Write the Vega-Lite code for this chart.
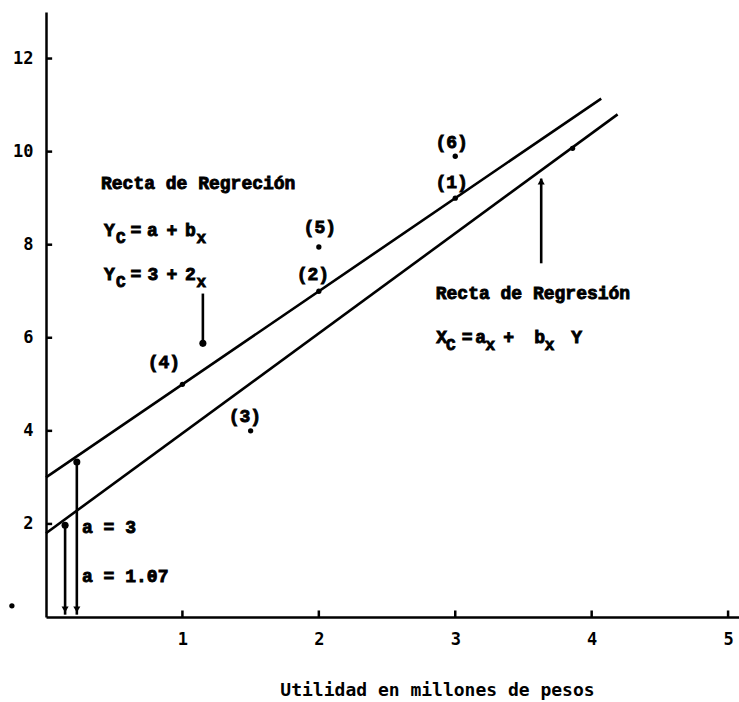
{
  "$schema": "https://vega.github.io/schema/vega-lite/v6.json",
  "width": 693,
  "height": 605,
  "autosize": {"type": "none"},
  "padding": {"left": 46, "top": 12, "right": 0, "bottom": 85},
  "background": "white",
  "config": {
    "view": {"stroke": null},
    "font": "Liberation Mono",
    "axis": {
      "grid": false,
      "ticks": false,
      "domainColor": "black",
      "domainWidth": 2.5,
      "labelFont": "DejaVu Sans Mono",
      "labelFontWeight": "bold",
      "labelFontSize": 17,
      "labelColor": "black",
      "titleFont": "DejaVu Sans Mono",
      "titleFontWeight": "bold",
      "titleFontSize": 18,
      "titleColor": "black"
    }
  },
  "datasets": {
    "rectas": [
      {"recta": "Yc", "x": 0, "y": 3},
      {"recta": "Yc", "x": 4.07, "y": 11.14},
      {"recta": "Xc", "x": 0, "y": 1.8},
      {"recta": "Xc", "x": 4.19, "y": 10.8}
    ],
    "marcasY": [
      {"x": 0, "x2": 0.045, "y": 2},
      {"x": 0, "x2": 0.045, "y": 4},
      {"x": 0, "x2": 0.045, "y": 6},
      {"x": 0, "x2": 0.045, "y": 8},
      {"x": 0, "x2": 0.045, "y": 10},
      {"x": 0, "x2": 0.045, "y": 12}
    ],
    "marcasX": [
      {"x": 1, "y": 0, "y2": 0.14},
      {"x": 2, "y": 0, "y2": 0.14},
      {"x": 3, "y": 0, "y2": 0.14},
      {"x": 4, "y": 0, "y2": 0.14},
      {"x": 5, "y": 0, "y2": 0.14}
    ],
    "obs": [
      {"n": "(1)", "x": 3, "y": 9},
      {"n": "(2)", "x": 2, "y": 7},
      {"n": "(3)", "x": 1.5, "y": 4},
      {"n": "(4)", "x": 1, "y": 5},
      {"n": "(5)", "x": 2, "y": 7.95},
      {"n": "(6)", "x": 3, "y": 9.9},
      {"n": "", "x": 3.86, "y": 10.07},
      {"n": "", "x": -0.25, "y": 0.24}
    ],
    "flechas": [
      {"x": 1.15, "y": 6.95, "y2": 5.88},
      {"x": 3.63, "y": 9.42, "y2": 7.6},
      {"x": 0.14, "y": 0.05, "y2": 1.97},
      {"x": 0.226, "y": 0.05, "y2": 3.33}
    ],
    "puntas": [
      {"x": 1.15, "y": 5.88, "forma": "circle"},
      {"x": 3.63, "y": 9.36, "forma": "triangle-up"},
      {"x": 0.14, "y": 1.97, "forma": "circle"},
      {"x": 0.226, "y": 3.33, "forma": "circle"},
      {"x": 0.14, "y": 0.16, "forma": "triangle-down"},
      {"x": 0.226, "y": 0.16, "forma": "triangle-down"}
    ],
    "centrados": [
      {"t": "(6)", "x": 2.974, "y": 10.19},
      {"t": "(1)", "x": 2.974, "y": 9.33},
      {"t": "(5)", "x": 2.007, "y": 8.35},
      {"t": "(2)", "x": 1.956, "y": 7.34},
      {"t": "(4)", "x": 0.864, "y": 5.45},
      {"t": "(3)", "x": 1.458, "y": 4.29},
      {"t": "Y", "x": 0.464, "y": 8.3},
      {"t": "=", "x": 0.659, "y": 8.3},
      {"t": "a", "x": 0.78, "y": 8.3},
      {"t": "+", "x": 0.923, "y": 8.3},
      {"t": "b", "x": 1.059, "y": 8.3},
      {"t": "Y", "x": 0.464, "y": 7.34},
      {"t": "=", "x": 0.659, "y": 7.34},
      {"t": "3", "x": 0.784, "y": 7.34},
      {"t": "+", "x": 0.923, "y": 7.34},
      {"t": "2", "x": 1.059, "y": 7.34},
      {"t": "X", "x": 2.901, "y": 5.99},
      {"t": "=", "x": 3.088, "y": 5.99},
      {"t": "a", "x": 3.187, "y": 5.99},
      {"t": "+", "x": 3.392, "y": 5.99},
      {"t": "b", "x": 3.619, "y": 5.99},
      {"t": "Y", "x": 3.89, "y": 5.99}
    ],
    "subindices": [
      {"t": "C", "x": 0.549, "y": 8.3},
      {"t": "x", "x": 1.139, "y": 8.3},
      {"t": "C", "x": 0.549, "y": 7.34},
      {"t": "x", "x": 1.139, "y": 7.34},
      {"t": "C", "x": 2.967, "y": 5.99},
      {"t": "x", "x": 3.256, "y": 5.99},
      {"t": "x", "x": 3.692, "y": 5.99}
    ],
    "izquierda": [
      {"t": "Recta de Regreción", "x": 0.403, "y": 9.31},
      {"t": "Recta de Regresión", "x": 2.857, "y": 6.93},
      {"t": "a = 3", "x": 0.264, "y": 1.91},
      {"t": "a = 1.07", "x": 0.264, "y": 0.86}
    ]
  },
  "encoding": {
    "x": {
      "field": "x",
      "type": "quantitative",
      "scale": {"domain": [0, 5.08], "nice": false, "zero": false},
      "axis": {
        "values": [1, 2, 3, 4, 5],
        "labelPadding": 14,
        "title": "Utilidad en millones de pesos",
        "titleX": 391,
        "titleY": 73,
        "titleAlign": "center",
        "titleBaseline": "middle"
      }
    },
    "y": {
      "field": "y",
      "type": "quantitative",
      "scale": {"domain": [0, 13], "nice": false, "zero": false},
      "axis": {
        "values": [2, 4, 6, 8, 10, 12],
        "labelPadding": 13,
        "title": null
      }
    }
  },
  "layer": [
    {
      "data": {"name": "rectas"},
      "mark": {"type": "line", "color": "black", "strokeWidth": 2.6},
      "encoding": {"detail": {"field": "recta", "type": "nominal"}}
    },
    {
      "data": {"name": "marcasY"},
      "mark": {"type": "rule", "color": "black", "strokeWidth": 2.5},
      "encoding": {"x2": {"field": "x2"}}
    },
    {
      "data": {"name": "marcasX"},
      "mark": {"type": "rule", "color": "black", "strokeWidth": 2.5},
      "encoding": {"y2": {"field": "y2"}}
    },
    {
      "data": {"name": "flechas"},
      "mark": {"type": "rule", "color": "black", "strokeWidth": 2.6},
      "encoding": {"y2": {"field": "y2"}}
    },
    {
      "data": {"name": "puntas"},
      "mark": {"type": "point", "filled": true, "color": "black", "opacity": 1, "size": 50},
      "encoding": {"shape": {"field": "forma", "type": "nominal", "scale": null}}
    },
    {
      "data": {"name": "obs"},
      "mark": {"type": "point", "filled": true, "shape": "circle", "color": "black", "opacity": 1, "size": 28}
    },
    {
      "data": {"name": "centrados"},
      "mark": {"type": "text", "align": "center", "baseline": "middle", "font": "Liberation Mono", "fontWeight": "bold", "fontSize": 18, "color": "black", "stroke": "black", "strokeWidth": 0.9},
      "encoding": {"text": {"field": "t"}}
    },
    {
      "data": {"name": "subindices"},
      "mark": {"type": "text", "align": "center", "baseline": "middle", "dy": 7, "font": "Liberation Mono", "fontWeight": "bold", "fontSize": 16, "color": "black", "stroke": "black", "strokeWidth": 0.9},
      "encoding": {"text": {"field": "t"}}
    },
    {
      "data": {"name": "izquierda"},
      "mark": {"type": "text", "align": "left", "baseline": "middle", "font": "Liberation Mono", "fontWeight": "bold", "fontSize": 18, "color": "black", "stroke": "black", "strokeWidth": 0.9},
      "encoding": {"text": {"field": "t"}}
    }
  ]
}
